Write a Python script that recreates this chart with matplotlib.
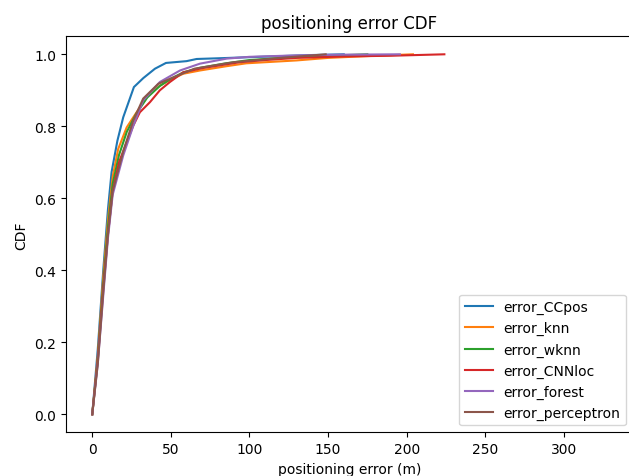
import numpy as np
import matplotlib
matplotlib.use("Agg")
import matplotlib.pyplot as plt

ccpos_x = [0, 3.5, 7, 10, 12.3, 16, 19.7, 26.5, 32.5, 39.9, 46.9, 60, 66.4, 80.5, 100, 120, 140, 160]
ccpos_y = [0, 0.18, 0.40, 0.57, 0.673, 0.76, 0.825, 0.909, 0.934, 0.960, 0.976, 0.981, 0.987, 0.989, 0.992, 0.995, 0.998, 1.0]

knn_x = [0, 3.5, 7, 10, 13, 16.5, 21.9, 28.2, 35.6, 43, 50, 57.9, 68.5, 85.5, 98, 110, 130, 150, 175, 204]
knn_y = [0, 0.16, 0.38, 0.54, 0.66, 0.737, 0.797, 0.839, 0.886, 0.913, 0.93, 0.946, 0.955, 0.967, 0.975, 0.978, 0.983, 0.99, 0.995, 1.0]

wknn_x = [0, 3.5, 7, 10, 13, 17, 22, 28, 35, 43, 50, 58, 68, 85, 100, 120, 150, 175]
wknn_y = [0, 0.15, 0.36, 0.52, 0.64, 0.72, 0.785, 0.835, 0.88, 0.912, 0.932, 0.950, 0.962, 0.975, 0.984, 0.99, 0.996, 1.0]

cnnloc_x = [0, 3.5, 7, 10, 13, 17, 21.9, 26.1, 30.3, 36.7, 43, 49.4, 57.9, 70.6, 93.9, 110, 130, 160, 190, 224]
cnnloc_y = [0, 0.15, 0.35, 0.5, 0.62, 0.70, 0.756, 0.802, 0.839, 0.867, 0.900, 0.923, 0.950, 0.962, 0.978, 0.984, 0.99, 0.994, 0.996, 1.0]

forest_x = [0, 3.5, 7, 10, 13, 19.7, 26, 32.4, 43, 55.8, 68.5, 85.5, 100, 130, 160, 195.7]
forest_y = [0, 0.14, 0.33, 0.49, 0.61, 0.719, 0.80, 0.872, 0.923, 0.955, 0.974, 0.988, 0.993, 0.997, 0.999, 1.0]

perceptron_x = [0, 3.5, 7, 10, 13, 19.7, 26, 32.4, 42, 49.4, 65, 90, 120, 148.5]
perceptron_y = [0, 0.14, 0.34, 0.5, 0.62, 0.73, 0.815, 0.877, 0.918, 0.932, 0.96, 0.978, 0.99, 1.0]

series = [
    ("error_CCpos", ccpos_x, ccpos_y),
    ("error_knn", knn_x, knn_y),
    ("error_wknn", wknn_x, wknn_y),
    ("error_CNNloc", cnnloc_x, cnnloc_y),
    ("error_forest", forest_x, forest_y),
    ("error_perceptron", perceptron_x, perceptron_y),
]

fig = plt.figure(figsize=(6.29, 4.77), dpi=100)
ax = fig.add_axes([66 / 629, 1 - 433.3 / 477, (633 - 66) / 629, (433.3 - 37.3) / 477])

for name, xs, ys in series:
    ax.plot(xs, ys, label=name)

ax.set_xlim(-16.7, 344)
ax.set_ylim(-0.05, 1.05)
ax.set_title("positioning error CDF")
ax.set_xlabel("positioning error (m)")
ax.set_ylabel("CDF")
ax.legend(loc="lower right")

fig.savefig("out.png", dpi=100)
